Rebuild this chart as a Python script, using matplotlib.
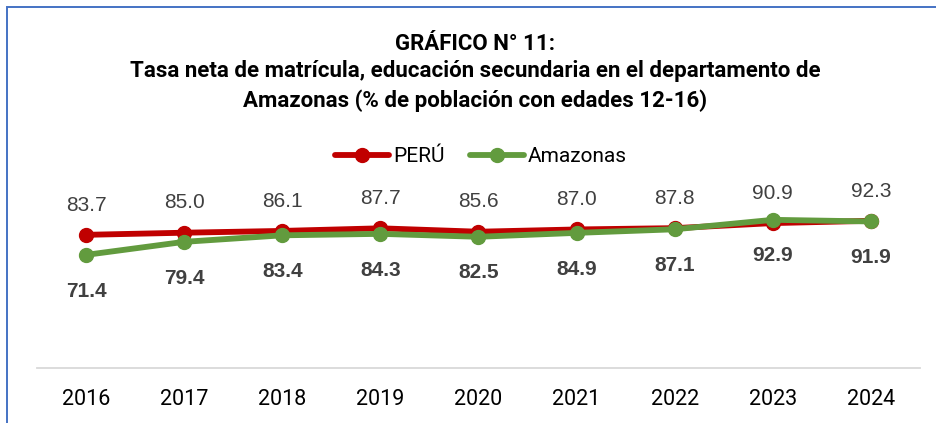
import matplotlib
matplotlib.use('Agg')
import matplotlib.pyplot as plt
from matplotlib.patches import Rectangle

years = ['2016', '2017', '2018', '2019', '2020', '2021', '2022', '2023', '2024']
peru = [83.7, 85.0, 86.1, 87.7, 85.6, 87.0, 87.8, 90.9, 92.3]
amazonas = [71.4, 79.4, 83.4, 84.3, 82.5, 84.9, 87.1, 92.9, 91.9]

title_lines = ['GRÁFICO N° 11:',
               'Tasa neta de matrícula, educación secundaria en el departamento de',
               'Amazonas (% de población con edades 12-16)']

red = '#C00000'
green = '#629B3E'
label_col = '#404040'
narrow = ['Roboto', 'DejaVu Sans']

fig = plt.figure(figsize=(9.36, 4.23), dpi=100)

# blue frame of the chart area (right/bottom edges fall outside the picture)
fig.patches.append(Rectangle((7 / 936, -0.1), 1.0, 1.1 - 7 / 423,
                             transform=fig.transFigure, fill=False,
                             edgecolor='#4472C4', linewidth=1.4))

ax = fig.add_axes([37 / 936, 55 / 423, 883 / 936, 163 / 423])
x = range(len(years))
ax.plot(x, peru, color=red, lw=4.2, marker='o', ms=10, label='PERÚ',
        solid_capstyle='round', zorder=3)
ax.plot(x, amazonas, color=green, lw=4.2, marker='o', ms=10, label='Amazonas',
        solid_capstyle='round', zorder=4)

for i, v in enumerate(peru):
    ax.annotate(f'{v:.1f}', (i, v), xytext=(0, 17.5), textcoords='offset points',
                ha='center', va='baseline', fontsize=15, color=label_col,
                family='Liberation Sans', annotation_clip=False)
for i, v in enumerate(amazonas):
    ax.annotate(f'{v:.1f}', (i, v), xytext=(0, -30), textcoords='offset points',
                ha='center', va='baseline', fontsize=15, color=label_col,
                fontweight='bold', family='Liberation Sans', annotation_clip=False)

ax.set_xlim(-0.5, len(years) - 0.5)
ax.set_ylim(2, 102)
ax.set_xticks(list(x))
ax.set_xticklabels(years, family=narrow, fontsize=15.5)
ax.tick_params(axis='x', length=0, pad=15)
ax.set_yticks([])
for s in ['top', 'right', 'left']:
    ax.spines[s].set_visible(False)
ax.spines['bottom'].set_color('#D9D9D9')
ax.spines['bottom'].set_linewidth(1.3)

for t, yy in zip(title_lines, [49.5, 77.5, 106.5]):
    fig.text(475 / 936, 1 - yy / 423, t, ha='center', va='baseline', fontsize=16,
             fontweight='bold', family=narrow)

fig.legend(loc='center', bbox_to_anchor=(481 / 936, 1 - 157 / 423), ncol=2,
           frameon=False, prop={'family': narrow, 'size': 15},
           handlelength=2.6, handletextpad=0.2, columnspacing=1.2,
           borderaxespad=0, borderpad=0)

fig.savefig('out.png', dpi=100)
